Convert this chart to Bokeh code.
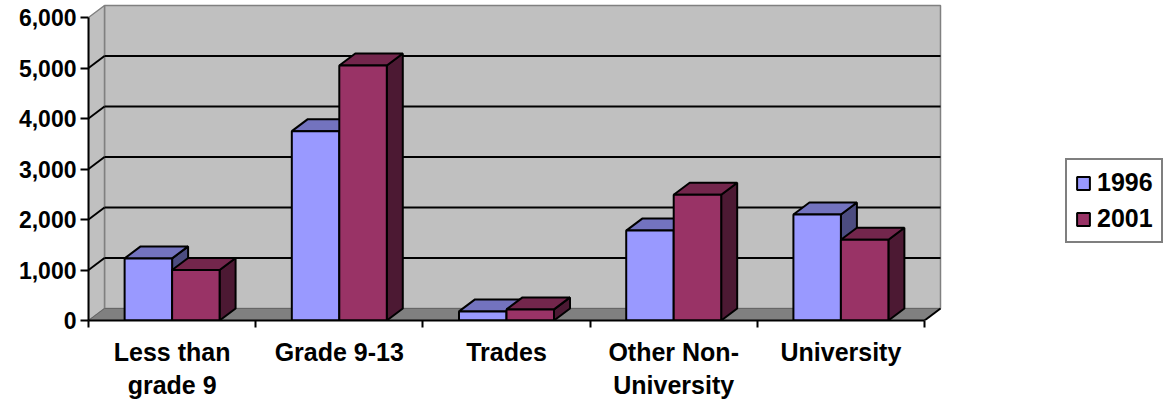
from bokeh.plotting import figure
from bokeh.models import (Range1d, FixedTicker, NumeralTickFormatter, ColumnDataSource,
                          Legend, LegendItem, LinearAxis)
from bokeh.embed import file_html
from bokeh.resources import INLINE

# ---- data ----
categories = ["Less than\ngrade 9", "Grade 9-13", "Trades", "Other Non-\nUniversity", "University"]
series_names = ["1996", "2001"]
v1996 = [1230, 3750, 180, 1780, 2100]
v2001 = [1000, 5050, 220, 2490, 1600]
y_ticks = [0, 1000, 2000, 3000, 4000, 5000, 6000]

# ---- styling / geometry ----
W, H = 1176, 402
LEFT, TOP, BOTTOM = 88, 0, 320          # frame pixel edges
PX_CAT = 167.2                          # pixels per category
PX_VAL = 0.0505                         # pixels per value unit
DEPTH_X_PX, DEPTH_Y_PX = 16, 12
DX = DEPTH_X_PX / PX_CAT
DY = DEPTH_Y_PX / PX_VAL
BAR_W = 0.284
YMAX = 6000
N = len(categories)

front_cols = ["#9999FF", "#993366"]
top_cols = ["#7373BF", "#73264C"]
side_cols = ["#4C4C80", "#4C1933"]
FONT = "Liberation Sans"

x_end = (W - LEFT) / PX_CAT
y_end = (BOTTOM - TOP) / PX_VAL

p = figure(width=W, height=H, output_backend="svg", toolbar_location=None,
           x_range=Range1d(0, x_end), y_range=Range1d(0, y_end),
           min_border_left=LEFT, min_border_right=0, min_border_top=TOP,
           min_border_bottom=H - BOTTOM, x_axis_type=None, y_axis_type=None)
p.outline_line_color = None
p.background_fill_color = "white"
p.border_fill_color = "white"
p.grid.visible = False

# ---- walls and floor ----
p.quad(left=[DX], right=[N + DX], bottom=[DY], top=[YMAX + DY],
       fill_color="#C0C0C0", line_color="#808080", line_width=1.5)
p.patch([0, DX, DX, 0], [0, DY, YMAX + DY, YMAX],
        fill_color="#C0C0C0", line_color="#808080", line_width=1.5)
p.patch([0, N, N + DX, DX], [0, 0, DY, DY],
        fill_color="#808080", line_color="#666666", line_width=1)
p.line([N, N + DX], [0, DY], line_color="black", line_width=2)

# gridlines: diagonal on left wall + horizontal on back wall
gx0, gy0, gx1, gy1 = [], [], [], []
for t in y_ticks[1:-1]:
    gx0 += [0, DX]; gy0 += [t, t + DY]
    gx1 += [DX, N + DX]; gy1 += [t + DY, t + DY]
p.segment(x0=gx0, y0=gy0, x1=gx1, y1=gy1, line_color="black", line_width=2)

# ---- 3D bars ----
front_renderers = []
for s, vals in enumerate([v1996, v2001]):
    lefts = [i + 0.5 - BAR_W + s * BAR_W for i in range(N)]
    rights = [l + BAR_W for l in lefts]
    tops_x = [[l, r, r + DX, l + DX] for l, r in zip(lefts, rights)]
    tops_y = [[v, v, v + DY, v + DY] for v in vals]
    sides_x = [[r, r + DX, r + DX, r] for r in rights]
    sides_y = [[0, DY, v + DY, v] for v in vals]
    p.patches(sides_x, sides_y, fill_color=side_cols[s], line_color="black", line_width=2)
    p.patches(tops_x, tops_y, fill_color=top_cols[s], line_color="black", line_width=2)
    src = ColumnDataSource(dict(left=lefts, right=rights, top=vals, bottom=[0] * N))
    r = p.quad(left="left", right="right", top="top", bottom="bottom", source=src,
               fill_color=front_cols[s], line_color="black", line_width=2)
    front_renderers.append(r)

# ---- axes ----
yaxis = LinearAxis(ticker=FixedTicker(ticks=y_ticks, minor_ticks=[]),
                   formatter=NumeralTickFormatter(format="0,0"), bounds=(0, YMAX))
yaxis.axis_line_width = 2
yaxis.major_tick_line_width = 2
yaxis.major_tick_out = 8
yaxis.major_tick_in = 0
yaxis.major_label_standoff = 4
yaxis.major_label_text_font = FONT
yaxis.major_label_text_font_style = "bold"
yaxis.major_label_text_font_size = "23px"
yaxis.major_label_text_color = "black"
p.add_layout(yaxis, "left")

centers = [i + 0.5 for i in range(N)]
xaxis = LinearAxis(ticker=FixedTicker(ticks=centers, minor_ticks=list(range(N + 1))),
                   bounds=(0, N))
xaxis.major_label_overrides = {c: lab for c, lab in zip(centers, categories)}
xaxis.axis_line_width = 2
xaxis.major_tick_out = 0
xaxis.major_tick_in = 0
xaxis.minor_tick_out = 7
xaxis.minor_tick_in = 0
xaxis.minor_tick_line_width = 2
xaxis.minor_tick_line_color = "black"
xaxis.major_label_standoff = 10
xaxis.major_label_text_font = FONT
xaxis.major_label_text_font_style = "bold"
xaxis.major_label_text_font_size = "25px"
xaxis.major_label_text_color = "black"
p.add_layout(xaxis, "below")

# ---- legend ----
legend = Legend(items=[LegendItem(label=n, renderers=[r]) for n, r in zip(series_names, front_renderers)],
                location=(977, 77), orientation="vertical",
                border_line_color="black", border_line_width=2,
                background_fill_color="white", background_fill_alpha=1,
                label_text_font=FONT, label_text_font_style="bold",
                label_text_font_size="25px", label_text_color="black",
                glyph_width=16, glyph_height=16, label_standoff=6,
                label_height=24, spacing=7, padding=8, margin=0)
p.add_layout(legend)

open("out.html", "w").write(file_html(p, INLINE))
